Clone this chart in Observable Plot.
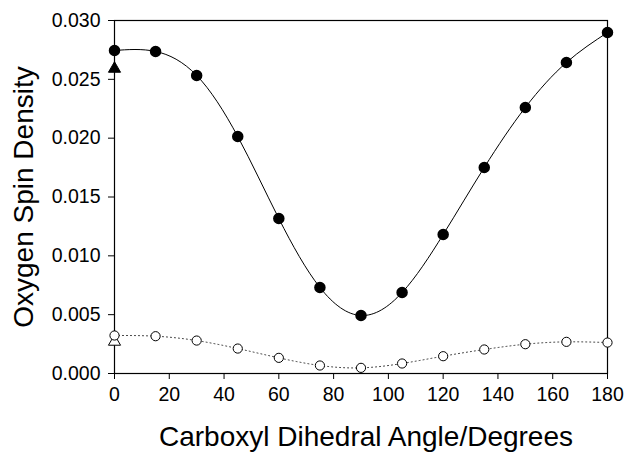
<!DOCTYPE html>
<html>
<head>
<meta charset="utf-8">
<script src="https://cdn.jsdelivr.net/npm/d3@7"></script>
<script src="https://cdn.jsdelivr.net/npm/@observablehq/plot@0.6"></script>
<style>
  body { margin: 0; background: #fff; }
  #chart svg { display: block; }
</style>
</head>
<body>
<div id="chart"></div>
<script>
// Carboxyl dihedral angle (degrees)
const angles = [0, 15, 30, 45, 60, 75, 90, 105, 120, 135, 150, 165, 180];
// Oxygen spin density, filled-circle series
const densityFilled = [0.02745, 0.02737, 0.02533, 0.02014, 0.01317, 0.00731, 0.00493, 0.00688, 0.01181, 0.01751, 0.02261, 0.02643, 0.02898];
// Oxygen spin density, open-circle series
const densityOpen = [0.00323, 0.00317, 0.00280, 0.00212, 0.00133, 0.00068, 0.00048, 0.00085, 0.00147, 0.00204, 0.00249, 0.00269, 0.00263];
// Single reference values at 0 degrees (triangles)
const triangleAngle = [0, 0];
const triangleDensity = [0.0259, 0.0027];
const triangleFilled = [true, false];

const xTicks = d3.range(0, 181, 20);
const yTicks = [0, 0.005, 0.010, 0.015, 0.020, 0.025, 0.030];
const xTitle = "Carboxyl Dihedral Angle/Degrees";
const yTitle = "Oxygen Spin Density";

const filled = angles.map((a, i) => ({angle: a, rho: densityFilled[i]}));
const open = angles.map((a, i) => ({angle: a, rho: densityOpen[i]}));
const tri = triangleAngle.map((a, i) => ({angle: a, rho: triangleDensity[i], solid: triangleFilled[i]}));

const chart = Plot.plot({
  width: 635,
  height: 452,
  marginLeft: 114,
  marginRight: 28,
  marginTop: 20,
  marginBottom: 79,
  style: {fontFamily: "'Liberation Sans', Arial, sans-serif", fontSize: "19.5px", color: "#000", background: "#fff"},
  x: {domain: [0, 180], ticks: xTicks},
  y: {domain: [0, 0.030], ticks: yTicks},
  marks: [
    Plot.frame({stroke: "#000", strokeWidth: 1.2}),
    Plot.axisX({ticks: xTicks, tickSize: 6, tickPadding: 8, fontSize: 19.5, tickFormat: d3.format("d"), label: null}),
    Plot.axisY({ticks: yTicks, tickSize: 6, tickPadding: 8, fontSize: 19.5, tickFormat: d3.format(".3f"), label: null}),
    Plot.text([xTitle], {text: d => d, frameAnchor: "bottom", textAnchor: "middle", dx: 5, dy: 72, fontSize: 28, fill: "#000"}),
    Plot.text([yTitle], {text: d => d, frameAnchor: "left", textAnchor: "middle", lineAnchor: "middle", rotate: -90, dx: -90, fontSize: 28, fill: "#000"}),
    Plot.line(filled, {x: "angle", y: "rho", curve: "natural", stroke: "#000", strokeWidth: 1}),
    Plot.line(open, {x: "angle", y: "rho", curve: "natural", stroke: "#333", strokeWidth: 1, strokeDasharray: "1,3"}),
    Plot.dot(tri, {x: "angle", y: "rho", symbol: "triangle", r: 4.5, fill: d => d.solid ? "#000" : "#fff", stroke: "#000", strokeWidth: 1}),
    Plot.dot(open, {x: "angle", y: "rho", r: 4.6, fill: "#fff", stroke: "#000", strokeWidth: 1}),
    Plot.dot(filled, {x: "angle", y: "rho", r: 5, fill: "#000", stroke: "#000"})
  ]
});
document.getElementById("chart").appendChild(chart);
</script>
</body>
</html>
